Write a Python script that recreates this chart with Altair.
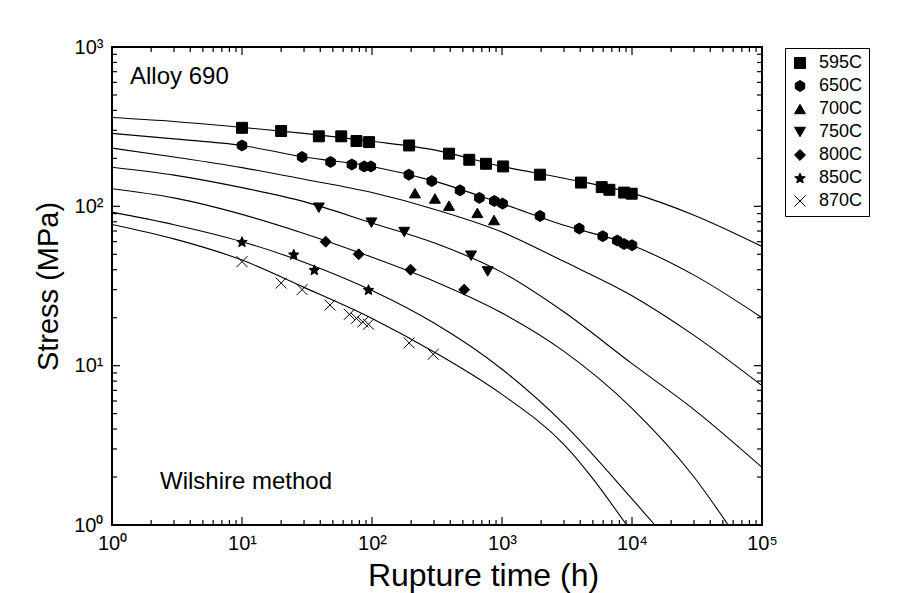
import math
import altair as alt
import pandas as pd

# ---------------- data ----------------
temps = ["595C", "650C", "700C", "750C", "800C", "850C", "870C"]

t595 = [10, 20, 39, 58, 76, 95, 193, 391, 560, 753, 1020, 1960, 4050, 5850, 6700, 8700, 9950]
s595 = [311, 297, 275, 275, 257, 253, 241, 214, 196, 185, 178, 158, 141, 132, 127, 122, 120]

t650 = [10, 29, 48, 70, 87, 98, 192, 288, 475, 670, 873, 1010, 1960, 3930, 5950, 7700, 8700, 10000]
s650 = [241, 204, 190, 183, 178, 178, 158, 144, 126, 113, 108, 104, 87, 72.5, 65, 61, 58, 57]

t700 = [214, 305, 391, 646, 868]
s700 = [121, 112, 101, 91, 82]

t750 = [39, 99, 177, 578, 776]
s750 = [98, 79, 69, 49, 39]

t800 = [44, 79, 198, 512]
s800 = [60, 50, 40, 30]

t850 = [10, 25, 36, 94]
s850 = [60, 50, 40, 30]

t870 = [10, 20, 29, 47.5, 67, 76, 85, 94, 193, 296]
s870 = [45, 33, 30, 24, 21, 19.8, 18.8, 18.2, 13.9, 11.8]

# Wilshire fit curves
ct_a = [1, 3, 10, 30, 100, 300, 1000, 3000, 10000, 30000, 100000]
c595 = [361, 341, 313, 287, 256, 226, 178, 150, 121, 88, 56]
c650 = [287, 265, 241, 204, 178, 144, 104, 76, 57, 37, 20]
c700 = [232, 204, 175, 148, 122, 96, 69, 45, 27.5, 15.5, 7.5]
c750 = [176, 157, 131, 107, 78.6, 59, 38.5, 21.7, 10.3, 5.3, 2.3]
ct_800 = [1, 3, 10, 30, 100, 300, 1000, 3000, 10000, 30000, 55000]
c800 = [129, 113, 89, 67.6, 47.9, 33.9, 21.4, 12.3, 5.4, 2.0, 1]
ct_850 = [1, 3, 10, 30, 100, 300, 1000, 3000, 10000, 15000]
c850 = [92, 76.7, 60, 44.6, 29.6, 18.5, 9.5, 4.3, 1.46, 1]
ct_870 = [1, 3, 10, 30, 100, 300, 1000, 3000, 9100]
c870 = [77, 62.5, 46, 31, 19.8, 12.2, 6.6, 3.2, 1]

x_major = [1, 10, 100, 1000, 10000, 100000]
y_major = [1, 10, 100, 1000]
x_minor = [m * 10 ** d for d in range(5) for m in range(2, 10)]
y_minor = [m * 10 ** d for d in range(3) for m in range(2, 10)]

# ---------------- frames ----------------
pts = pd.concat([
    pd.DataFrame({"t": t, "s": s, "temp": name})
    for t, s, name in [
        (t595, s595, "595C"), (t650, s650, "650C"), (t700, s700, "700C"),
        (t750, s750, "750C"), (t800, s800, "800C"), (t850, s850, "850C"),
        (t870, s870, "870C"),
    ]
], ignore_index=True)

curves = pd.concat([
    pd.DataFrame({"t": t, "s": s, "curve": name})
    for t, s, name in [
        (ct_a, c595, "595C"), (ct_a, c650, "650C"), (ct_a, c700, "700C"),
        (ct_a, c750, "750C"), (ct_800, c800, "800C"), (ct_850, c850, "850C"),
        (ct_870, c870, "870C"),
    ]
], ignore_index=True)

# ---------------- styling ----------------
W, H = 650, 478
FONT = "Liberation Sans"
MAJ, MIN = 8, 5

star_pts = []
for k in range(10):
    r = 1.0 if k % 2 == 0 else 0.45
    a = math.radians(-90 + 36 * k)
    star_pts.append(f"{r * math.cos(a):.3f},{r * math.sin(a) + 0.1:.3f}")
STAR = "M" + "L".join(star_pts) + "Z"
HEX = "M0,-1L0.866,-0.5L0.866,0.5L0,1L-0.866,0.5L-0.866,-0.5Z"
XMARK = "M-1,-1L1,1M-1,1L1,-1"

shapes = ["square", HEX, "triangle-up", "triangle-down", "diamond", STAR, XMARK]
fills = ["black"] * 6 + ["transparent"]
strokes = ["black"] * 7

xscale = alt.Scale(type="log", domain=[1, 100000], nice=False)
yscale = alt.Scale(type="log", domain=[1, 1000], nice=False)

label_expr = ("'10' + (datum.value < 5 ? '\u2070' : datum.value < 50 ? '\u00b9' : "
              "datum.value < 500 ? '\u00b2' : datum.value < 5000 ? '\u00b3' : "
              "datum.value < 50000 ? '\u2074' : '\u2075')")

xaxis = alt.Axis(values=x_major, labelExpr=label_expr, ticks=False, domain=False, grid=False,
                 title="Rupture time (h)", titleFontSize=32, titleFont=FONT, titleFontWeight="normal",
                 titleX=371, titleY=60, titleBaseline="alphabetic", titleAlign="center",
                 labelFont=FONT, labelFontSize=20, labelPadding=8,
                 labelColor="black", titleColor="black", labelFlush=False)
yaxis = alt.Axis(values=y_major, labelExpr=label_expr, ticks=False, domain=False, grid=False,
                 title="Stress (MPa)", titleFontSize=29, titleFont=FONT, titleFontWeight="normal",
                 labelFont=FONT, labelFontSize=20, labelPadding=9, titlePadding=10,
                 labelColor="black", titleColor="black", labelFlush=False)

base_x = alt.X("t:Q", scale=xscale, axis=xaxis)
base_y = alt.Y("s:Q", scale=yscale, axis=yaxis)

lines = alt.Chart(curves).mark_line(color="black", strokeWidth=1.1, interpolate="monotone", clip=True).encode(
    x=base_x, y=base_y, detail="curve:N"
)

leg = alt.Legend(title=None)
points = alt.Chart(pts).mark_point(size=120, strokeWidth=1, opacity=1).encode(
    x=alt.X("t:Q", scale=xscale, axis=xaxis),
    y=alt.Y("s:Q", scale=yscale, axis=yaxis),
    shape=alt.Shape("temp:N", scale=alt.Scale(domain=temps, range=shapes), legend=leg),
    fill=alt.Fill("temp:N", scale=alt.Scale(domain=temps, range=fills), legend=leg),
    stroke=alt.Stroke("temp:N", scale=alt.Scale(domain=temps, range=strokes), legend=leg),
)


def tick_layer(vals, channel, length, side):
    df = pd.DataFrame({"v": vals})
    if channel == "x":
        enc = dict(x=alt.X("v:Q", scale=xscale, axis=xaxis))
        if side == "bottom":
            enc.update(y=alt.value(H), y2=alt.value(H - length))
        else:
            enc.update(y=alt.value(0), y2=alt.value(length))
    else:
        enc = dict(y=alt.Y("v:Q", scale=yscale, axis=yaxis))
        if side == "left":
            enc.update(x=alt.value(0), x2=alt.value(length))
        else:
            enc.update(x=alt.value(W), x2=alt.value(W - length))
    return alt.Chart(df).mark_rule(color="black", strokeWidth=1.2).encode(**enc)


ticks = [
    tick_layer(x_major, "x", MAJ, "bottom"), tick_layer(x_minor, "x", MIN, "bottom"),
    tick_layer(x_major, "x", MAJ, "top"), tick_layer(x_minor, "x", MIN, "top"),
    tick_layer(y_major, "y", MAJ, "left"), tick_layer(y_minor, "y", MIN, "left"),
    tick_layer(y_major, "y", MAJ, "right"), tick_layer(y_minor, "y", MIN, "right"),
]

notes = pd.DataFrame({"label": ["Alloy 690", "Wilshire method"]})
note1 = alt.Chart(notes.iloc[[0]]).mark_text(align="left", baseline="alphabetic", font=FONT,
                                             fontSize=24, color="black").encode(
    text="label:N", x=alt.value(18), y=alt.value(37))
note2 = alt.Chart(notes.iloc[[1]]).mark_text(align="left", baseline="alphabetic", font=FONT,
                                             fontSize=24, color="black").encode(
    text="label:N", x=alt.value(48), y=alt.value(442))

chart = alt.layer(lines, *ticks, points, note1, note2).properties(
    width=W, height=H,
    padding={"left": 104, "top": 39, "right": 122, "bottom": 68},
    autosize=alt.AutoSizeParams(type="none"),
).configure_view(
    stroke="black", strokeWidth=2
).configure_legend(
    orient="none", legendX=673, legendY=1,
    strokeColor="black", strokeWidth=1, padding=6, cornerRadius=0,
    labelFont=FONT, labelFontSize=18, labelColor="black", labelOffset=10,
    rowPadding=5, symbolSize=120, symbolStrokeWidth=1, symbolOffset=0,
)

chart.save("out.html", embed_options={"renderer": "svg", "actions": False})
